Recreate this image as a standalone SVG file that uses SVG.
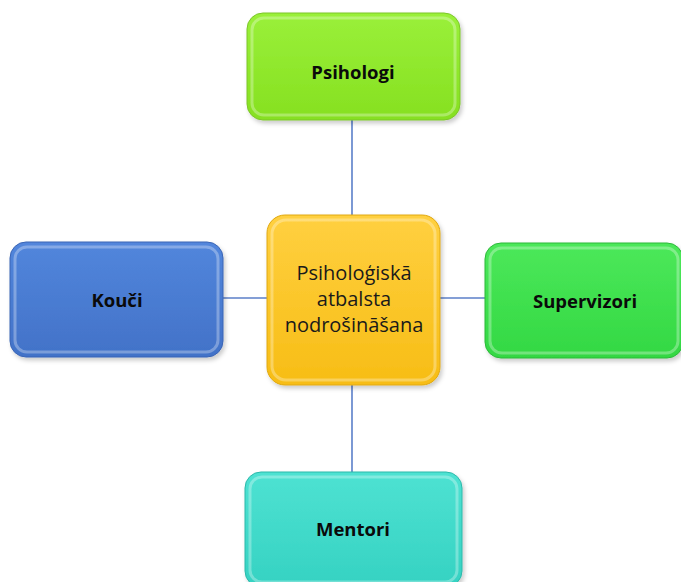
<svg xmlns="http://www.w3.org/2000/svg" width="681" height="582" viewBox="0 0 681 582">
<defs>
<style>
.lbl{font-family:"Open Sans","Liberation Sans",sans-serif;font-weight:bold;font-size:18.5px;fill:#0a0a0a;text-anchor:middle;dominant-baseline:central}
.ctr{font-family:"Open Sans","Liberation Sans",sans-serif;font-size:20px;fill:#1a1a1a;text-anchor:middle}
.conn{stroke:#5b7fc9;stroke-width:1.6;fill:none}
.hl{fill:none;stroke:#ffffff;stroke-opacity:0.3;stroke-width:3}
</style>
<filter id="sh" x="-10%" y="-10%" width="125%" height="125%">
<feDropShadow dx="2" dy="3" stdDeviation="2" flood-color="#000" flood-opacity="0.2"/>
</filter>
<linearGradient id="gG" x1="0" y1="0" x2="0" y2="1"><stop offset="0" stop-color="#9af03a"/><stop offset="1" stop-color="#86e020"/></linearGradient>
<linearGradient id="gY" x1="0" y1="0" x2="0" y2="1"><stop offset="0" stop-color="#ffd040"/><stop offset="1" stop-color="#f7bd15"/></linearGradient>
<linearGradient id="gB" x1="0" y1="0" x2="0" y2="1"><stop offset="0" stop-color="#5286dc"/><stop offset="1" stop-color="#4272c8"/></linearGradient>
<linearGradient id="gS" x1="0" y1="0" x2="0" y2="1"><stop offset="0" stop-color="#4ce85a"/><stop offset="1" stop-color="#33d843"/></linearGradient>
<linearGradient id="gT" x1="0" y1="0" x2="0" y2="1"><stop offset="0" stop-color="#4ee2d2"/><stop offset="1" stop-color="#35d2c2"/></linearGradient>
</defs>
<rect width="681" height="582" fill="#ffffff"/>
<g id="connectors">
<line class="conn" x1="352" y1="120" x2="352" y2="216"/>
<line class="conn" x1="352" y1="384" x2="352" y2="473"/>
<line class="conn" x1="222" y1="298" x2="268" y2="298"/>
<line class="conn" x1="439" y1="298" x2="486" y2="298"/>
</g>
<g id="psihologi">
<rect x="247" y="13" width="213" height="107" rx="16" fill="url(#gG)" stroke="#7cc52a" stroke-width="1" filter="url(#sh)"/>
<rect x="252" y="18" width="203" height="97" rx="12" class="hl"/>
<text class="lbl" x="353" y="71">Psihologi</text>
</g>
<g id="center">
<rect x="267" y="215" width="173" height="170" rx="18" fill="url(#gY)" stroke="#e0a810" stroke-width="1" filter="url(#sh)"/>
<rect x="272" y="220" width="163" height="160" rx="14" class="hl"/>
<text class="ctr" x="354" y="280">Psiholoģiskā</text>
<text class="ctr" x="354" y="306">atbalsta</text>
<text class="ctr" x="354" y="332">nodrošināšana</text>
</g>
<g id="kouci">
<rect x="10" y="242" width="213" height="115" rx="16" fill="url(#gB)" stroke="#3a64b4" stroke-width="1" filter="url(#sh)"/>
<rect x="15" y="247" width="203" height="105" rx="12" class="hl"/>
<text class="lbl" x="117" y="299">Kouči</text>
</g>
<g id="supervizori">
<rect x="485" y="243" width="198" height="115" rx="16" fill="url(#gS)" stroke="#2cb83a" stroke-width="1" filter="url(#sh)"/>
<rect x="490" y="248" width="188" height="105" rx="12" class="hl"/>
<text class="lbl" x="585" y="300">Supervizori</text>
</g>
<g id="mentori">
<rect x="245" y="472" width="217" height="115" rx="16" fill="url(#gT)" stroke="#2cb8aa" stroke-width="1" filter="url(#sh)"/>
<rect x="250" y="477" width="207" height="105" rx="12" class="hl"/>
<text class="lbl" x="353" y="528">Mentori</text>
</g>
</svg>
